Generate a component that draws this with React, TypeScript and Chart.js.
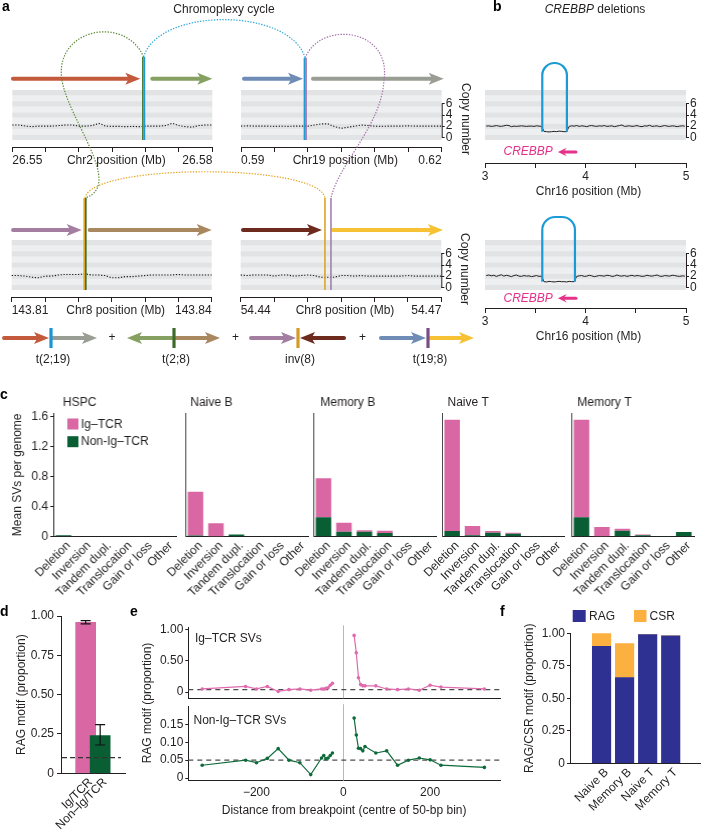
import React, { useEffect, useRef } from 'react';
import { Chart, registerables } from 'chart.js';

Chart.register(...registerables);

const FONT = "'Liberation Sans', Arial, Helvetica, sans-serif";
Chart.defaults.font.family = FONT;
Chart.defaults.font.size = 12;
Chart.defaults.color = '#231f20';

const INK = '#231f20';
const PINK = '#d967a3';
const GREEN = '#0a5e34';
const NAVY = '#2e3192';
const ORANGE = '#fbb040';
const MAGENTA = '#e5318b';

// ================= Panel a data =================
const chr2Ticks = [26.55, 26.555, 26.56, 26.565, 26.57, 26.575, 26.58];
const chr19Ticks = [0.59, 0.595, 0.6, 0.605, 0.61, 0.615, 0.62];
const chr8aTicks = [143.81, 143.815, 143.82, 143.825, 143.83, 143.835, 143.84];
const chr8bTicks = [54.44, 54.445, 54.45, 54.455, 54.46, 54.465, 54.47];
const copyNumberTicks = [0, 2, 4, 6];
const cnBinMb = 0.001;

const chr2CopyNumber = [2.2, 2.2, 2.0, 1.9, 2.0, 2.0, 2.0, 2.1, 2.2, 2.2, 2.0, 2.0, 2.1, 2.5, 2.0, 1.95, 1.95, 1.9, 1.95, 1.9, 2.0, 2.0, 2.0, 2.1, 2.5, 2.1, 1.9, 1.8, 2.1, 2.2, 2.2];
const chr19CopyNumber = [2.0, 2.05, 2.0, 2.0, 2.0, 1.95, 2.0, 1.95, 2.0, 2.0, 2.0, 2.2, 2.4, 2.4, 1.9, 1.6, 1.8, 2.0, 2.2, 2.1, 2.0, 1.95, 2.0, 2.0, 2.0, 2.05, 2.0, 2.0, 2.0, 2.0, 2.0];
const chr8aCopyNumber = [2.1, 2.1, 2.0, 1.8, 1.7, 2.0, 2.0, 2.2, 2.3, 2.3, 2.3, 2.4, 2.2, 2.2, 2.1, 1.7, 1.7, 1.9, 1.9, 2.0, 2.1, 2.2, 2.2, 2.2, 2.2, 2.3, 2.2, 2.2, 2.2, 2.2, 2.2];
const chr8bCopyNumber = [2.2, 2.1, 2.2, 2.2, 2.2, 2.0, 2.2, 2.2, 2.0, 2.1, 2.2, 2.1, 1.8, 1.8, 1.8, 2.1, 2.1, 2.0, 2.1, 2.0, 2.0, 2.0, 2.0, 2.0, 2.0, 2.1, 2.0, 2.0, 2.0, 2.0, 2.0];

const chr2Segments = [[26.5501, 26.5692], [26.571, 26.58]];
const chr19Segments = [[0.59045, 0.59927], [0.60076, 0.6203]];
const chr8aSegments = [[143.8102, 143.8205], [143.8217, 143.84]];
const chr8bSegments = [[54.44034, 54.45215], [54.4538, 54.47025]];

const chr2Breakpoint = 26.5697;
const chr19Breakpoint = 0.5996;
const chr8aBreakpoint = 143.821;
const chr8bBreakpoints = [54.4526, 54.4535];

// ================= Panel b data =================
const chr16Ticks = [3, 3.5, 4, 4.5, 5];
const chr16BinStart = 3.0125;
const chr16BinMb = 0.025;
const crebbpCopyNumber1 = [
  2.0, 2.05, 1.95, 2.0, 2.1, 2.0, 1.95, 2.05, 2.15, 2.1, 1.9, 2.0, 1.95, 2.0, 2.05, 2.0, 1.95, 2.0, 2.0, 1.95, 2.05, 2.0, 1.95,
  1.05, 1.0, 0.95, 1.0, 1.05, 1.0, 1.1, 1.05, 1.0, 1.0,
  1.95, 2.05, 2.0, 2.1, 1.95, 2.05, 2.0, 1.9, 2.05, 2.1, 2.0, 1.95, 2.05, 2.0, 2.1, 1.95, 2.0, 2.05, 1.9, 2.0,
  2.1, 2.2, 1.95, 2.0, 2.05, 1.95, 2.0, 2.1, 1.95, 1.9, 2.05, 2.0, 2.15, 1.95, 2.0, 2.05, 1.9, 2.0, 2.1, 2.0,
  1.95, 2.05, 2.0, 1.9, 2.0, 2.05, 2.0,
];
const crebbpCopyNumber2 = [
  2.1, 2.2, 2.05, 2.15, 1.95, 2.1, 2.25, 2.0, 2.15, 2.05, 1.9, 2.1, 2.2, 2.0, 1.95, 2.1, 2.0, 2.05, 1.9, 2.0, 2.1, 1.95, 2.0,
  1.0, 0.95, 1.05, 1.0, 0.95, 1.0, 1.05, 1.0, 1.0, 0.95, 1.05, 1.0, 1.0,
  1.95, 2.05, 2.1, 1.95, 2.0, 2.15, 2.05, 1.9, 2.0, 2.1, 2.05, 2.0, 2.15, 2.1, 1.95, 2.0, 2.2, 2.05, 2.0, 2.1,
  1.95, 2.05, 2.15, 2.0, 2.1, 2.05, 1.95, 2.0, 2.15, 2.05, 2.0, 2.1, 2.2, 2.0, 1.95, 2.1, 2.05, 2.0, 2.15, 2.1,
  2.0, 1.95, 2.05, 2.0,
];
const crebbpDeletion1 = [3.57, 3.815];
const crebbpDeletion2 = [3.57, 3.895];
const crebbpGene = [3.725, 3.905];

// ================= Panel c data =================
const cCategories = ['Deletion', 'Inversion', 'Tandem dupl.', 'Translocation', 'Gain or loss', 'Other'];
const cCellTypes = ['HSPC', 'Naive B', 'Memory B', 'Naive T', 'Memory T'];
const cYTicks = [0, 0.4, 0.8, 1.2, 1.6];
const hspcIgTcr = [0, 0, 0, 0, 0, 0];
const hspcNonIgTcr = [0.02, 0, 0, 0, 0, 0];
const naiveBIgTcr = [0.585, 0.18, 0, 0, 0, 0];
const naiveBNonIgTcr = [0.015, 0, 0.03, 0, 0, 0.005];
const memoryBIgTcr = [0.52, 0.12, 0.022, 0.03, 0, 0];
const memoryBNonIgTcr = [0.26, 0.067, 0.065, 0.05, 0.01, 0.01];
const naiveTIgTcr = [1.484, 0.122, 0.023, 0.013, 0, 0];
const naiveTNonIgTcr = [0.076, 0.02, 0.053, 0.04, 0.01, 0];
const memoryTIgTcr = [1.3, 0.129, 0.027, 0.01, 0, 0];
const memoryTNonIgTcr = [0.26, 0, 0.08, 0.02, 0.01, 0.062];

// ================= Panel d data =================
const dLabels = ['Ig/TCR', 'Non–Ig/TCR'];
const dValues = [0.96, 0.24];
const dErrLow = [0.95, 0.18];
const dErrHigh = [0.97, 0.31];
const dBackground = 0.1;
const propTicks = [0, 0.25, 0.5, 0.75, 1];

// ================= Panel e data =================
const eDistance = [-325, -225, -200, -175, -150, -125, -100, -75, -50, -45, -40, -35, -30, -25, 25, 30, 35, 40, 45, 50, 75, 100, 125, 150, 175, 200, 225, 325];
const eIgTcr = [0.05, 0.09, 0.05, 0.09, 0.01, 0.04, 0.05, 0.03, 0.05, 0.05, 0.06, 0.07, 0.11, 0.14, 0.91, 0.63, 0.23, 0.12, 0.1, 0.1, 0.1, 0.05, 0.04, 0.05, 0.03, 0.11, 0.08, 0.05];
const eNonIgTcr = [0.036, 0.05, 0.043, 0.055, 0.082, 0.05, 0.043, 0.01, 0.056, 0.063, 0.054, 0.056, 0.063, 0.07, 0.167, 0.12, 0.083, 0.082, 0.076, 0.088, 0.07, 0.076, 0.036, 0.05, 0.056, 0.051, 0.036, 0.03];
const eIgBackground = 0.04;
const eNonBackground = 0.05;
const eXTicks = [-200, 0, 200];
const eBottomTicks = [0, 0.05, 0.1, 0.15];

// ================= Panel f data =================
const fCellTypes = ['Naive B', 'Memory B', 'Naive T', 'Memory T'];
const fRag = [0.9, 0.66, 0.99, 0.98];
const fCsr = [0.1, 0.26, 0, 0];

// ================= helpers =================
type Box = { x: number; y: number; w: number; h: number };
type Rect = { l: number; t: number; r: number; b: number };

function frame(c: Box, p: Rect) {
  return {
    padding: { left: 0, top: p.t - c.y, right: c.x + c.w - p.r, bottom: 0 },
    yw: p.l - c.x,
    xh: c.y + c.h - p.b,
  };
}

function fitTo(size: number) {
  return (s: any) => {
    if (s.isHorizontal()) s.height = size;
    else s.width = size;
    s.paddingLeft = 0;
    s.paddingRight = 0;
    s.paddingTop = 0;
    s.paddingBottom = 0;
  };
}

function setTicks(list: number[]) {
  return (s: any) => {
    s.ticks = list.map((v) => ({ value: v }));
  };
}

function baseOptions(padding: any, scales: any) {
  return {
    responsive: false,
    animation: false,
    devicePixelRatio: 1,
    events: [],
    layout: { padding, autoPadding: false },
    plugins: { legend: { display: false }, title: { display: false }, tooltip: { enabled: false } },
    scales,
  };
}

function txt(ctx: CanvasRenderingContext2D, s: string, x: number, y: number, o: any = {}) {
  ctx.save();
  ctx.font = o.font || `12px ${FONT}`;
  ctx.fillStyle = o.color || INK;
  ctx.textAlign = o.align || 'left';
  ctx.textBaseline = o.baseline || 'middle';
  if (o.rotate) {
    ctx.translate(x, y);
    ctx.rotate(o.rotate);
    ctx.fillText(s, 0, 0);
  } else ctx.fillText(s, x, y);
  ctx.restore();
}

function arrow(ctx: CanvasRenderingContext2D, xTail: number, xHead: number, y: number, color: string, shaft = 4, headLen = 15, headHalf = 6) {
  const d = Math.sign(xHead - xTail) || 1;
  const base = xHead - d * headLen;
  ctx.save();
  ctx.strokeStyle = color;
  ctx.fillStyle = color;
  ctx.lineWidth = shaft;
  ctx.lineCap = 'round';
  ctx.setLineDash([]);
  ctx.beginPath();
  ctx.moveTo(xTail, y);
  ctx.lineTo(base + d * 3, y);
  ctx.stroke();
  ctx.beginPath();
  ctx.moveTo(xHead, y);
  ctx.lineTo(base, y - headHalf);
  ctx.lineTo(base + d * 3.5, y);
  ctx.lineTo(base, y + headHalf);
  ctx.closePath();
  ctx.fill();
  ctx.restore();
}

function deco(after: (chart: any) => void, before?: (chart: any) => void) {
  return {
    id: 'deco',
    beforeDatasetsDraw: (chart: any) => {
      if (before) before(chart);
    },
    afterDatasetsDraw: (chart: any) => after(chart),
  };
}

function placeScale(s: any, l: number, t: number, r: number, b: number) {
  s.left = l;
  s.top = t;
  s.right = r;
  s.bottom = b;
  s.width = r - l;
  s.height = b - t;
  s._gridLineItems = null;
  s._labelItems = null;
  s.configure();
}

// ================= track charts (panels a & b) =================
function trackConfig(tracks: any[], box: Box, draw: (chart: any, X: any, Y: any, o: number[]) => void) {
  const o = [box.x, box.y];
  const scales: any = {};
  tracks.forEach((t, i) => {
    scales['x' + i] = {
      type: 'linear',
      position: 'bottom',
      min: t.ticks[0],
      max: t.ticks[t.ticks.length - 1],
      afterBuildTicks: setTicks(t.ticks),
      ticks: {
        autoSkip: false,
        minRotation: 0,
        maxRotation: 0,
        padding: 1,
        color: INK,
        font: { size: 12 },
        align: t.endLabels ? 'inner' : 'center',
        callback: (v: any, k: number, arr: any[]) =>
          t.endLabels ? (k === 0 || k === arr.length - 1 ? Number(v).toFixed(2) : '') : Number.isInteger(v) ? String(v) : '',
      },
      grid: { drawOnChartArea: false, drawTicks: true, tickLength: 5, color: INK, lineWidth: 1 },
      border: { display: true, color: INK, width: 1 },
    };
    scales['y' + i] = {
      type: 'linear',
      position: 'right',
      display: t.showY,
      min: -0.5,
      max: 8.5,
      afterBuildTicks: setTicks(copyNumberTicks),
      ticks: { autoSkip: false, padding: 1, color: INK, font: { size: 12 }, callback: (v: any) => String(v) },
      grid: { drawOnChartArea: false, drawTicks: true, tickLength: 3, color: INK, lineWidth: 1 },
      border: { display: false },
    };
  });
  const datasets = tracks.map((t, i) => ({
    type: 'line',
    data: t.values.map((v: number, k: number) => ({ x: t.start + k * t.bin, y: v })),
    xAxisID: 'x' + i,
    yAxisID: 'y' + i,
    borderColor: INK,
    borderWidth: t.lineWidth,
    borderDash: t.dash,
    pointRadius: 0,
    fill: false,
    tension: 0,
    clip: false,
  }));
  return {
    type: 'line',
    data: { datasets },
    options: baseOptions(0, scales),
    plugins: [
      {
        id: 'tracks',
        afterLayout: (chart: any) => {
          tracks.forEach((t, i) => {
            const l = t.rect[0] - o[0];
            const tp = t.rect[1] - o[1];
            const r = t.rect[2] - o[0];
            const b = t.rect[3] - o[1];
            placeScale(chart.scales['x' + i], l, b + t.axisGap, r, b + t.axisGap + 30);
            placeScale(chart.scales['y' + i], r, tp, r + 20, b);
          });
        },
        beforeDatasetsDraw: (chart: any) => {
          const ctx = chart.ctx;
          tracks.forEach((t, i) => {
            const xs = chart.scales['x' + i];
            const ys = chart.scales['y' + i];
            const l = xs.getPixelForValue(xs.min);
            const r = xs.getPixelForValue(xs.max);
            for (let k = 0; k <= 8; k++) {
              const y1 = ys.getPixelForValue(k + 0.5);
              const y0 = ys.getPixelForValue(k - 0.5);
              ctx.fillStyle = k % 2 === 0 ? '#e2e3e4' : '#eeeff0';
              ctx.fillRect(l, y1, r - l, y0 - y1);
            }
          });
        },
        afterDatasetsDraw: (chart: any) => {
          const X = (i: number, v: number) => chart.scales['x' + i].getPixelForValue(v);
          const Y = (i: number, v: number) => chart.scales['y' + i].getPixelForValue(v);
          const ctx = chart.ctx;
          tracks.forEach((t, i) => {
            if (!t.showY) return;
            const x = X(i, t.ticks[t.ticks.length - 1]) + 0.5;
            ctx.save();
            ctx.strokeStyle = INK;
            ctx.lineWidth = 1;
            ctx.beginPath();
            ctx.moveTo(x, Y(i, 0) + 0.5);
            ctx.lineTo(x, Y(i, 6) - 0.5);
            ctx.stroke();
            ctx.restore();
          });
          draw(chart, X, Y, o);
        },
      },
    ],
  };
}

// ---------- panel a ----------
const aBox: Box = { x: 0, y: 0, w: 480, h: 372 };
const aTracks = [
  {
    ticks: chr2Ticks, values: chr2CopyNumber, start: chr2Ticks[0], bin: cnBinMb, rect: [12.3, 90, 212.3, 140], axisGap: 7,
    showY: false, endLabels: true, dash: [1.3, 1.6], lineWidth: 1.1, label: 'Chr2 position (Mb)',
    segments: chr2Segments, colors: ['#c45a3c', '#86a062'], arrowRise: 11.3, bpRise: 33,
    bp: [{ v: chr2Breakpoint, color: '#4d7a35', dx: -0.8 }, { v: chr2Breakpoint, color: '#1c9bd7', dx: 0.8 }],
  },
  {
    ticks: chr19Ticks, values: chr19CopyNumber, start: chr19Ticks[0], bin: cnBinMb, rect: [241, 90, 441.7, 140], axisGap: 7,
    showY: true, endLabels: true, dash: [1.3, 1.6], lineWidth: 1.1, label: 'Chr19 position (Mb)',
    segments: chr19Segments, colors: ['#6e8cb6', '#9a9d93'], arrowRise: 11.3, bpRise: 32,
    bp: [{ v: chr19Breakpoint, color: '#1c9bd7', dx: -0.8 }, { v: chr19Breakpoint, color: '#9e6ca6', dx: 0.8 }],
  },
  {
    ticks: chr8aTicks, values: chr8aCopyNumber, start: chr8aTicks[0], bin: cnBinMb, rect: [11.7, 240, 211.7, 290], axisGap: 7,
    showY: false, endLabels: true, dash: [1.3, 1.6], lineWidth: 1.1, label: 'Chr8 position (Mb)',
    segments: chr8aSegments, colors: ['#a47ea0', '#a9875f'], arrowRise: 10, bpRise: 42,
    bp: [{ v: chr8aBreakpoint, color: '#dba52a', dx: -0.8 }, { v: chr8aBreakpoint, color: '#3f6e2c', dx: 0.8 }],
  },
  {
    ticks: chr8bTicks, values: chr8bCopyNumber, start: chr8bTicks[0], bin: cnBinMb, rect: [240.7, 240, 441.3, 290], axisGap: 7,
    showY: true, endLabels: true, dash: [1.3, 1.6], lineWidth: 1.1, label: 'Chr8 position (Mb)',
    segments: chr8bSegments, colors: ['#6e2b1d', '#f6c233'], arrowRise: 10, bpRise: 42,
    bp: [{ v: chr8bBreakpoints[0], color: '#dba52a', dx: 0 }, { v: chr8bBreakpoints[1], color: '#a57fab', dx: 0 }],
  },
];
const aArcs: any[] = [
  { color: '#2ea6dc', from: [0, chr2Breakpoint], to: [1, chr19Breakpoint], c1: [14.7, -50], c2: [-15.3, -51] },
  { color: '#5e8a3b', from: [0, chr2Breakpoint], to: [2, chr8aBreakpoint], via: [-82, 21], c1: [-18, -42], c2: [-6, -50], c3: [5, 40], c4: [40, -13] },
  { color: '#a66fab', from: [1, chr19Breakpoint], to: [3, chr8bBreakpoints[1]], via: [78.7, 22], c1: [14.7, -38], c2: [8, -52], c3: [-2, 45], c4: [8, -35] },
  { color: '#e3a624', from: [2, chr8aBreakpoint], to: [3, chr8bBreakpoints[0]], c1: [5, -35], c2: [-5, -35] },
];
const aLegendY = 338;
const aLegend = [
  { jx: 51, left: ['#c45a3c', 1], right: ['#9a9d93', 1], bar: '#1b95d2', label: 't(2;19)' },
  { jx: 174, left: ['#86a062', -1], right: ['#a9875f', 1], bar: '#3e6a2c', label: 't(2;8)' },
  { jx: 298, left: ['#a47ea0', 1], right: ['#6e2b1d', -1], bar: '#d49b26', label: 'inv(8)' },
  { jx: 428, left: ['#6e8cb6', 1], right: ['#f6c233', 1], bar: '#7b4d86', label: 't(19;8)' },
];

function drawPanelA(chart: any, X: any, Y: any, o: number[]) {
  const ctx: CanvasRenderingContext2D = chart.ctx;
  aTracks.forEach((t, i) => {
    const yA = Y(i, 8.5) - t.arrowRise;
    t.segments.forEach((seg: number[], k: number) => arrow(ctx, X(i, seg[0]), X(i, seg[1]), yA, t.colors[k]));
  });
  aTracks.forEach((t, i) => {
    const top = Y(i, 8.5) - t.bpRise;
    const bottom = Y(i, -0.5);
    t.bp.forEach((b: any) => {
      ctx.save();
      ctx.strokeStyle = b.color;
      ctx.lineWidth = 1.6;
      ctx.beginPath();
      ctx.moveTo(X(i, b.v) + b.dx, top);
      ctx.lineTo(X(i, b.v) + b.dx, bottom);
      ctx.stroke();
      ctx.restore();
    });
  });
  const endPt = (ref: any[]) => [X(ref[0], ref[1]), Y(ref[0], 8.5) - aTracks[ref[0]].bpRise];
  aArcs.forEach((a) => {
    const p0 = endPt(a.from);
    const p1 = endPt(a.to);
    ctx.save();
    ctx.strokeStyle = a.color;
    ctx.lineWidth = 1.2;
    ctx.setLineDash([1.4, 1.4]);
    ctx.beginPath();
    ctx.moveTo(p0[0], p0[1]);
    if (a.via) {
      const v = [p0[0] + a.via[0], p0[1] + a.via[1]];
      ctx.bezierCurveTo(p0[0] + a.c1[0], p0[1] + a.c1[1], v[0] + a.c2[0], v[1] + a.c2[1], v[0], v[1]);
      ctx.bezierCurveTo(v[0] + a.c3[0], v[1] + a.c3[1], p1[0] + a.c4[0], p1[1] + a.c4[1], p1[0], p1[1]);
    } else {
      ctx.bezierCurveTo(p0[0] + a.c1[0], p0[1] + a.c1[1], p1[0] + a.c2[0], p1[1] + a.c2[1], p1[0], p1[1]);
    }
    ctx.stroke();
    ctx.restore();
  });
  txt(ctx, 'Chromoplexy cycle', 224 - o[0], 9.5 - o[1], { align: 'center' });
  aTracks.forEach((t, i) => {
    const xs = chart.scales['x' + i];
    const cx = (xs.left + xs.right) / 2 + 4;
    txt(ctx, t.label, cx, xs.top + 13.5, { align: 'center' });
    if (t.showY) {
      const cy = (Y(i, 8.5) + Y(i, -0.5)) / 2 + 4;
      txt(ctx, 'Copy number', xs.right + 23.5, cy, { align: 'center', rotate: Math.PI / 2 });
    }
  });
  aLegend.forEach((g, k) => {
    const lc = g.left as any[];
    const rc = g.right as any[];
    if (lc[1] > 0) arrow(ctx, g.jx - 47, g.jx - 2, aLegendY, lc[0]);
    else arrow(ctx, g.jx - 2, g.jx - 47, aLegendY, lc[0]);
    if (rc[1] > 0) arrow(ctx, g.jx + 2, g.jx + 46, aLegendY, rc[0]);
    else arrow(ctx, g.jx + 46, g.jx + 2, aLegendY, rc[0]);
    ctx.fillStyle = g.bar;
    ctx.fillRect(g.jx - 1.6, aLegendY - 10, 3.2, 20);
    txt(ctx, g.label, g.jx + 2, 360, { align: 'center' });
    if (k < aLegend.length - 1) {
      const nx = (g.jx + 46 + aLegend[k + 1].jx - 47) / 2;
      txt(ctx, '+', nx, aLegendY, { align: 'center' });
    }
  });
}

const panelAConfig = () => trackConfig(aTracks, aBox, drawPanelA);

// ---------- panel b ----------
const bBox: Box = { x: 470, y: 0, w: 231, h: 352 };
const bTracks = [
  {
    ticks: chr16Ticks, values: crebbpCopyNumber1, start: chr16BinStart, bin: chr16BinMb, rect: [485, 90, 686, 140], axisGap: 23,
    showY: true, endLabels: false, dash: [], lineWidth: 1, deletion: crebbpDeletion1, arcRise: 27, geneGap: 12,
  },
  {
    ticks: chr16Ticks, values: crebbpCopyNumber2, start: chr16BinStart, bin: chr16BinMb, rect: [485, 240, 686, 290], axisGap: 18,
    showY: true, endLabels: false, dash: [], lineWidth: 1, deletion: crebbpDeletion2, arcRise: 23, geneGap: 8.3,
  },
];

function drawPanelB(chart: any, X: any, Y: any, o: number[]) {
  const ctx: CanvasRenderingContext2D = chart.ctx;
  bTracks.forEach((t, i) => {
    const xl = X(i, t.deletion[0]);
    const xr = X(i, t.deletion[1]);
    const yb = Y(i, 1);
    const yt = Y(i, 8.5) - t.arcRise;
    const r = Math.min((xr - xl) / 2, 13);
    ctx.save();
    ctx.strokeStyle = '#1b9ad6';
    ctx.lineWidth = 2.2;
    ctx.beginPath();
    ctx.moveTo(xl, yb);
    ctx.lineTo(xl, yt + r);
    ctx.arcTo(xl, yt, xl + r, yt, r);
    ctx.lineTo(xr - r, yt);
    ctx.arcTo(xr, yt, xr, yt + r, r);
    ctx.lineTo(xr, yb);
    ctx.stroke();
    ctx.restore();
    const gy = Y(i, -0.5) + t.geneGap;
    arrow(ctx, X(i, crebbpGene[1]), X(i, crebbpGene[0]), gy, MAGENTA, 3, 9, 4.2);
    txt(ctx, 'CREBBP', X(i, crebbpGene[0]) - 5, gy, { align: 'right', color: MAGENTA, font: `italic 12px ${FONT}` });
    const xs = chart.scales['x' + i];
    txt(ctx, 'Chr16 position (Mb)', (xs.left + xs.right) / 2 + 3, xs.top + 29, { align: 'center' });
  });
  ctx.save();
  ctx.font = `italic 12px ${FONT}`;
  const w1 = ctx.measureText('CREBBP').width;
  ctx.font = `12px ${FONT}`;
  const w2 = ctx.measureText(' deletions').width;
  ctx.restore();
  const startX = 595 - o[0] - (w1 + w2) / 2;
  txt(ctx, 'CREBBP', startX, 9.5 - o[1], { font: `italic 12px ${FONT}` });
  txt(ctx, ' deletions', startX + w1, 9.5 - o[1]);
}

const panelBConfig = () => trackConfig(bTracks, bBox, drawPanelB);

// ---------- panel c ----------
const cAxisX = [53, 185, 313.3, 441.7, 571];
const cPlotW = 122.5;
const cTitleDx = [9.5, 5, 7, 5.5, 6];
const cSeries = [
  [hspcNonIgTcr, hspcIgTcr],
  [naiveBNonIgTcr, naiveBIgTcr],
  [memoryBNonIgTcr, memoryBIgTcr],
  [naiveTNonIgTcr, naiveTIgTcr],
  [memoryTNonIgTcr, memoryTIgTcr],
];
function cBox(i: number): Box {
  const lm = i === 0 ? 53 : 42;
  return { x: cAxisX[i] - lm, y: 390, w: lm + cPlotW + 6, h: 215 };
}
function panelCConfig(i: number) {
  const box = cBox(i);
  const plot = { l: cAxisX[i], t: 413, r: cAxisX[i] + cPlotW, b: 536.7 };
  const f = frame(box, plot);
  const [non, ig] = cSeries[i];
  return {
    type: 'bar',
    data: {
      labels: cCategories,
      datasets: [
        { label: 'Non-Ig–TCR', data: non, backgroundColor: GREEN, categoryPercentage: 0.8, barPercentage: 0.95 },
        { label: 'Ig–TCR', data: ig, backgroundColor: PINK, categoryPercentage: 0.8, barPercentage: 0.95 },
      ],
    },
    options: baseOptions(f.padding, {
      x: {
        stacked: true,
        afterFit: fitTo(f.xh),
        ticks: { autoSkip: false, minRotation: 45, maxRotation: 45, padding: 2, labelOffset: 5, color: INK, font: { size: 12 } },
        grid: { display: false, drawTicks: false },
        border: { display: true, color: INK, width: 1 },
      },
      y: {
        stacked: true,
        min: 0,
        max: 1.65,
        afterFit: fitTo(f.yw),
        afterBuildTicks: setTicks(cYTicks),
        ticks: { display: i === 0, padding: 2, color: INK, font: { size: 12 }, callback: (v: any) => (v === 0 ? '0' : Number(v).toFixed(1)) },
        grid: { drawOnChartArea: false, drawTicks: i === 0, tickLength: 3, color: INK },
        border: { display: true, color: i === 0 ? INK : '#4a4a4a', width: 1 },
        title: { display: i === 0, text: 'Mean SVs per genome', color: INK, font: { size: 12 }, padding: { top: 10.8, bottom: 0 } },
      },
    }),
    plugins: [
      deco((chart: any) => {
        const ctx = chart.ctx;
        txt(ctx, cCellTypes[i], cAxisX[i] + cTitleDx[i] - box.x, 403 - box.y);
        if (i === 0) {
          ctx.fillStyle = PINK;
          ctx.fillRect(67 - box.x, 418.5 - box.y, 11, 11);
          ctx.fillStyle = GREEN;
          ctx.fillRect(67 - box.x, 436.2 - box.y, 11, 11);
          txt(ctx, 'Ig–TCR', 80.5 - box.x, 424.3 - box.y);
          txt(ctx, 'Non-Ig–TCR', 80.5 - box.x, 442 - box.y);
        }
      }),
    ],
  };
}

// ---------- panel d ----------
const dBox: Box = { x: 0, y: 600, w: 135, h: 233 };
function panelDConfig() {
  const plot = { l: 61, t: 616, r: 125, b: 773.3 };
  const f = frame(dBox, plot);
  return {
    type: 'bar',
    data: {
      datasets: [
        {
          data: dValues.map((v, k) => ({ x: k, y: v })),
          backgroundColor: [PINK, GREEN],
          barThickness: 20,
        },
      ],
    },
    options: baseOptions(f.padding, {
      x: {
        type: 'linear',
        min: -0.597,
        max: 1.61,
        afterFit: fitTo(f.xh),
        afterBuildTicks: setTicks([0, 1]),
        ticks: { autoSkip: false, minRotation: 45, maxRotation: 45, padding: 2, labelOffset: 5, color: INK, font: { size: 12 }, callback: (v: any) => dLabels[v] || '' },
        grid: { display: false, drawTicks: false },
        border: { display: true, color: INK, width: 1 },
      },
      y: {
        min: 0,
        max: 1,
        afterFit: fitTo(f.yw),
        afterBuildTicks: setTicks(propTicks),
        ticks: { padding: 3, color: INK, font: { size: 12 }, callback: (v: any) => (v === 0 ? '0' : Number(v).toFixed(2)) },
        grid: { drawOnChartArea: false, drawTicks: true, tickLength: 4, color: INK },
        border: { display: true, color: INK, width: 1 },
        title: { display: true, text: 'RAG motif (proportion)', color: INK, font: { size: 12 }, padding: { top: 14.5, bottom: 0 } },
      },
    }),
    plugins: [
      deco((chart: any) => {
        const ctx = chart.ctx;
        const xs = chart.scales.x;
        const ys = chart.scales.y;
        const a = chart.chartArea;
        ctx.save();
        ctx.strokeStyle = '#333333';
        ctx.lineWidth = 1.3;
        ctx.setLineDash([5, 3]);
        ctx.beginPath();
        ctx.moveTo(a.left + 1, ys.getPixelForValue(dBackground));
        ctx.lineTo(a.right - 4, ys.getPixelForValue(dBackground));
        ctx.stroke();
        ctx.setLineDash([]);
        ctx.strokeStyle = '#111111';
        ctx.lineWidth = 1.2;
        dValues.forEach((_, k) => {
          const x = xs.getPixelForValue(k);
          const y0 = ys.getPixelForValue(dErrLow[k]);
          const y1 = ys.getPixelForValue(dErrHigh[k]);
          ctx.beginPath();
          ctx.moveTo(x, y0);
          ctx.lineTo(x, y1);
          ctx.moveTo(x - 5, y0);
          ctx.lineTo(x + 5, y0);
          ctx.moveTo(x - 5, y1);
          ctx.lineTo(x + 5, y1);
          ctx.stroke();
        });
        ctx.restore();
      }),
    ],
  };
}

// ---------- panel e ----------
const ePink = '#e06aad';
const eGreen = '#0f6a3a';
function eLine(values: number[], color: string) {
  return {
    data: eDistance.map((d, k) => ({ x: d, y: values[k] })),
    borderColor: color,
    backgroundColor: color,
    borderWidth: 1.2,
    pointRadius: 1.8,
    pointBorderWidth: 0,
    pointBackgroundColor: color,
    tension: 0,
    clip: false,
    segment: { borderColor: (c: any) => (c.p0.parsed.x < 0 && c.p1.parsed.x > 0 ? 'rgba(0,0,0,0)' : color) },
  };
}
function eGuides(chart: any, bg: number) {
  const ctx = chart.ctx;
  const xs = chart.scales.x;
  const ys = chart.scales.y;
  const a = chart.chartArea;
  ctx.save();
  ctx.strokeStyle = '#b8b8b8';
  ctx.lineWidth = 1;
  const x0 = Math.round(xs.getPixelForValue(0)) + 0.5;
  ctx.beginPath();
  ctx.moveTo(x0, a.top - 2);
  ctx.lineTo(x0, a.bottom);
  ctx.stroke();
  ctx.strokeStyle = '#4d4d4d';
  ctx.lineWidth = 1.3;
  ctx.setLineDash([5, 4]);
  ctx.beginPath();
  ctx.moveTo(a.left, ys.getPixelForValue(bg));
  ctx.lineTo(a.right, ys.getPixelForValue(bg));
  ctx.stroke();
  ctx.restore();
}
const eTopBox: Box = { x: 150, y: 618, w: 360, h: 84 };
function panelETopConfig() {
  const plot = { l: 188.3, t: 627.3, r: 500, b: 698.3 };
  const f = frame(eTopBox, plot);
  return {
    type: 'line',
    data: { datasets: [eLine(eIgTcr, ePink)] },
    options: baseOptions(f.padding, {
      x: {
        type: 'linear',
        min: -357,
        max: 361,
        afterFit: fitTo(f.xh),
        ticks: { display: false },
        grid: { display: false, drawTicks: false },
        border: { display: true, color: INK, width: 1 },
      },
      y: {
        min: -0.1,
        max: 1.04,
        afterFit: fitTo(f.yw),
        afterBuildTicks: setTicks(propTicks),
        ticks: { padding: 2, color: INK, font: { size: 12 }, callback: (v: any) => (v === 0 ? '0' : v === 0.5 || v === 1 ? Number(v).toFixed(2) : '') },
        grid: { drawOnChartArea: false, drawTicks: true, tickLength: 3, color: INK },
        border: { display: true, color: INK, width: 1 },
      },
    }),
    plugins: [
      deco(
        (chart: any) => {
          txt(chart.ctx, 'Ig–TCR SVs', 195 - eTopBox.x, 638.5 - eTopBox.y);
        },
        (chart: any) => eGuides(chart, eIgBackground)
      ),
    ],
  };
}
const eBottomBox: Box = { x: 140, y: 620, w: 370, h: 213 };
function panelEBottomConfig() {
  const plot = { l: 188.3, t: 706.2, r: 500, b: 780.7 };
  const f = frame(eBottomBox, plot);
  return {
    type: 'line',
    data: { datasets: [eLine(eNonIgTcr, eGreen)] },
    options: baseOptions(f.padding, {
      x: {
        type: 'linear',
        min: -357,
        max: 361,
        afterFit: fitTo(f.xh),
        afterBuildTicks: setTicks(eXTicks),
        ticks: { autoSkip: false, maxRotation: 0, padding: 5, color: INK, font: { size: 12 }, callback: (v: any) => (v < 0 ? '−' + Math.abs(v) : String(v)) },
        grid: { display: false, drawTicks: false },
        border: { display: true, color: INK, width: 1 },
        title: { display: true, text: 'Distance from breakpoint (centre of 50-bp bin)', color: INK, font: { size: 12 }, padding: { top: 0, bottom: 15 } },
      },
      y: {
        min: -0.007,
        max: 0.2,
        afterFit: fitTo(f.yw),
        afterBuildTicks: setTicks(eBottomTicks),
        ticks: { padding: 2, color: INK, font: { size: 12 }, callback: (v: any) => (v === 0 ? '0' : Number(v).toFixed(2)) },
        grid: { drawOnChartArea: false, drawTicks: true, tickLength: 3, color: INK },
        border: { display: true, color: INK, width: 1 },
      },
    }),
    plugins: [
      deco(
        (chart: any) => {
          txt(chart.ctx, 'Non-Ig–TCR SVs', 193.5 - eBottomBox.x, 721 - eBottomBox.y);
          txt(chart.ctx, 'RAG motif (proportion)', 148 - eBottomBox.x, 703 - eBottomBox.y, { align: 'center', rotate: -Math.PI / 2 });
        },
        (chart: any) => eGuides(chart, eNonBackground)
      ),
    ],
  };
}

// ---------- panel f ----------
const fBox: Box = { x: 515, y: 600, w: 186, h: 233 };
function panelFConfig() {
  const plot = { l: 570, t: 633.3, r: 700, b: 763.3 };
  const f = frame(fBox, plot);
  return {
    type: 'bar',
    data: {
      datasets: [
        { label: 'RAG', data: fRag.map((v, k) => ({ x: k, y: v })), backgroundColor: NAVY, barThickness: 18.5 },
        { label: 'CSR', data: fCsr.map((v, k) => ({ x: k, y: v })), backgroundColor: ORANGE, barThickness: 18.5 },
      ],
    },
    options: baseOptions(f.padding, {
      x: {
        type: 'linear',
        stacked: true,
        min: -0.664,
        max: 3.566,
        afterFit: fitTo(f.xh),
        afterBuildTicks: setTicks([0, 1, 2, 3]),
        ticks: { autoSkip: false, minRotation: 45, maxRotation: 45, padding: 2, labelOffset: 5, color: INK, font: { size: 12 }, callback: (v: any) => fCellTypes[v] || '' },
        grid: { display: false, drawTicks: false },
        border: { display: true, color: INK, width: 1 },
      },
      y: {
        stacked: true,
        min: 0,
        max: 1,
        afterFit: fitTo(f.yw),
        afterBuildTicks: setTicks(propTicks),
        ticks: { padding: 2, color: INK, font: { size: 12 }, callback: (v: any) => (v === 0 ? '0' : Number(v).toFixed(2)) },
        grid: { drawOnChartArea: false, drawTicks: true, tickLength: 3, color: INK },
        border: { display: true, color: INK, width: 1 },
        title: { display: true, text: 'RAG/CSR motif (proportion)', color: INK, font: { size: 12 }, padding: { top: 7.8, bottom: 0 } },
      },
    }),
    plugins: [
      deco((chart: any) => {
        const ctx = chart.ctx;
        ctx.fillStyle = NAVY;
        ctx.fillRect(572.7 - fBox.x, 610 - fBox.y, 13, 12);
        ctx.fillStyle = ORANGE;
        ctx.fillRect(634 - fBox.x, 610 - fBox.y, 12.5, 12);
        txt(ctx, 'RAG', 589 - fBox.x, 616.5 - fBox.y);
        txt(ctx, 'CSR', 649.5 - fBox.x, 616.5 - fBox.y);
      }),
    ],
  };
}

// ================= components =================
function ChartBox({ box, config }: { box: Box; config: () => any }) {
  const ref = useRef<HTMLCanvasElement>(null);
  useEffect(() => {
    const chart = new Chart(ref.current as HTMLCanvasElement, config());
    return () => chart.destroy();
  }, []);
  return (
    <canvas
      ref={ref}
      width={box.w}
      height={box.h}
      style={{ position: 'absolute', left: box.x, top: box.y, width: box.w, height: box.h }}
    />
  );
}

const panelLetters: [string, number, number][] = [
  ['a', 2, 12],
  ['b', 493, 12],
  ['c', 0, 400],
  ['d', 0, 617],
  ['e', 130, 617],
  ['f', 500, 617],
];

export default function App() {
  return (
    <div style={{ position: 'absolute', left: 0, top: 0, width: 701, height: 833, background: '#ffffff', overflow: 'hidden' }}>
      <ChartBox box={aBox} config={panelAConfig} />
      <ChartBox box={bBox} config={panelBConfig} />
      {cAxisX.map((_, i) => (
        <ChartBox key={i} box={cBox(i)} config={() => panelCConfig(i)} />
      ))}
      <ChartBox box={dBox} config={panelDConfig} />
      <ChartBox box={eTopBox} config={panelETopConfig} />
      <ChartBox box={eBottomBox} config={panelEBottomConfig} />
      <ChartBox box={fBox} config={panelFConfig} />
      {panelLetters.map(([s, x, base]) => (
        <div
          key={s}
          style={{ position: 'absolute', left: x, top: base - 12.7, font: `bold 14px ${FONT}`, lineHeight: '14px', color: '#000' }}
        >
          {s}
        </div>
      ))}
    </div>
  );
}
